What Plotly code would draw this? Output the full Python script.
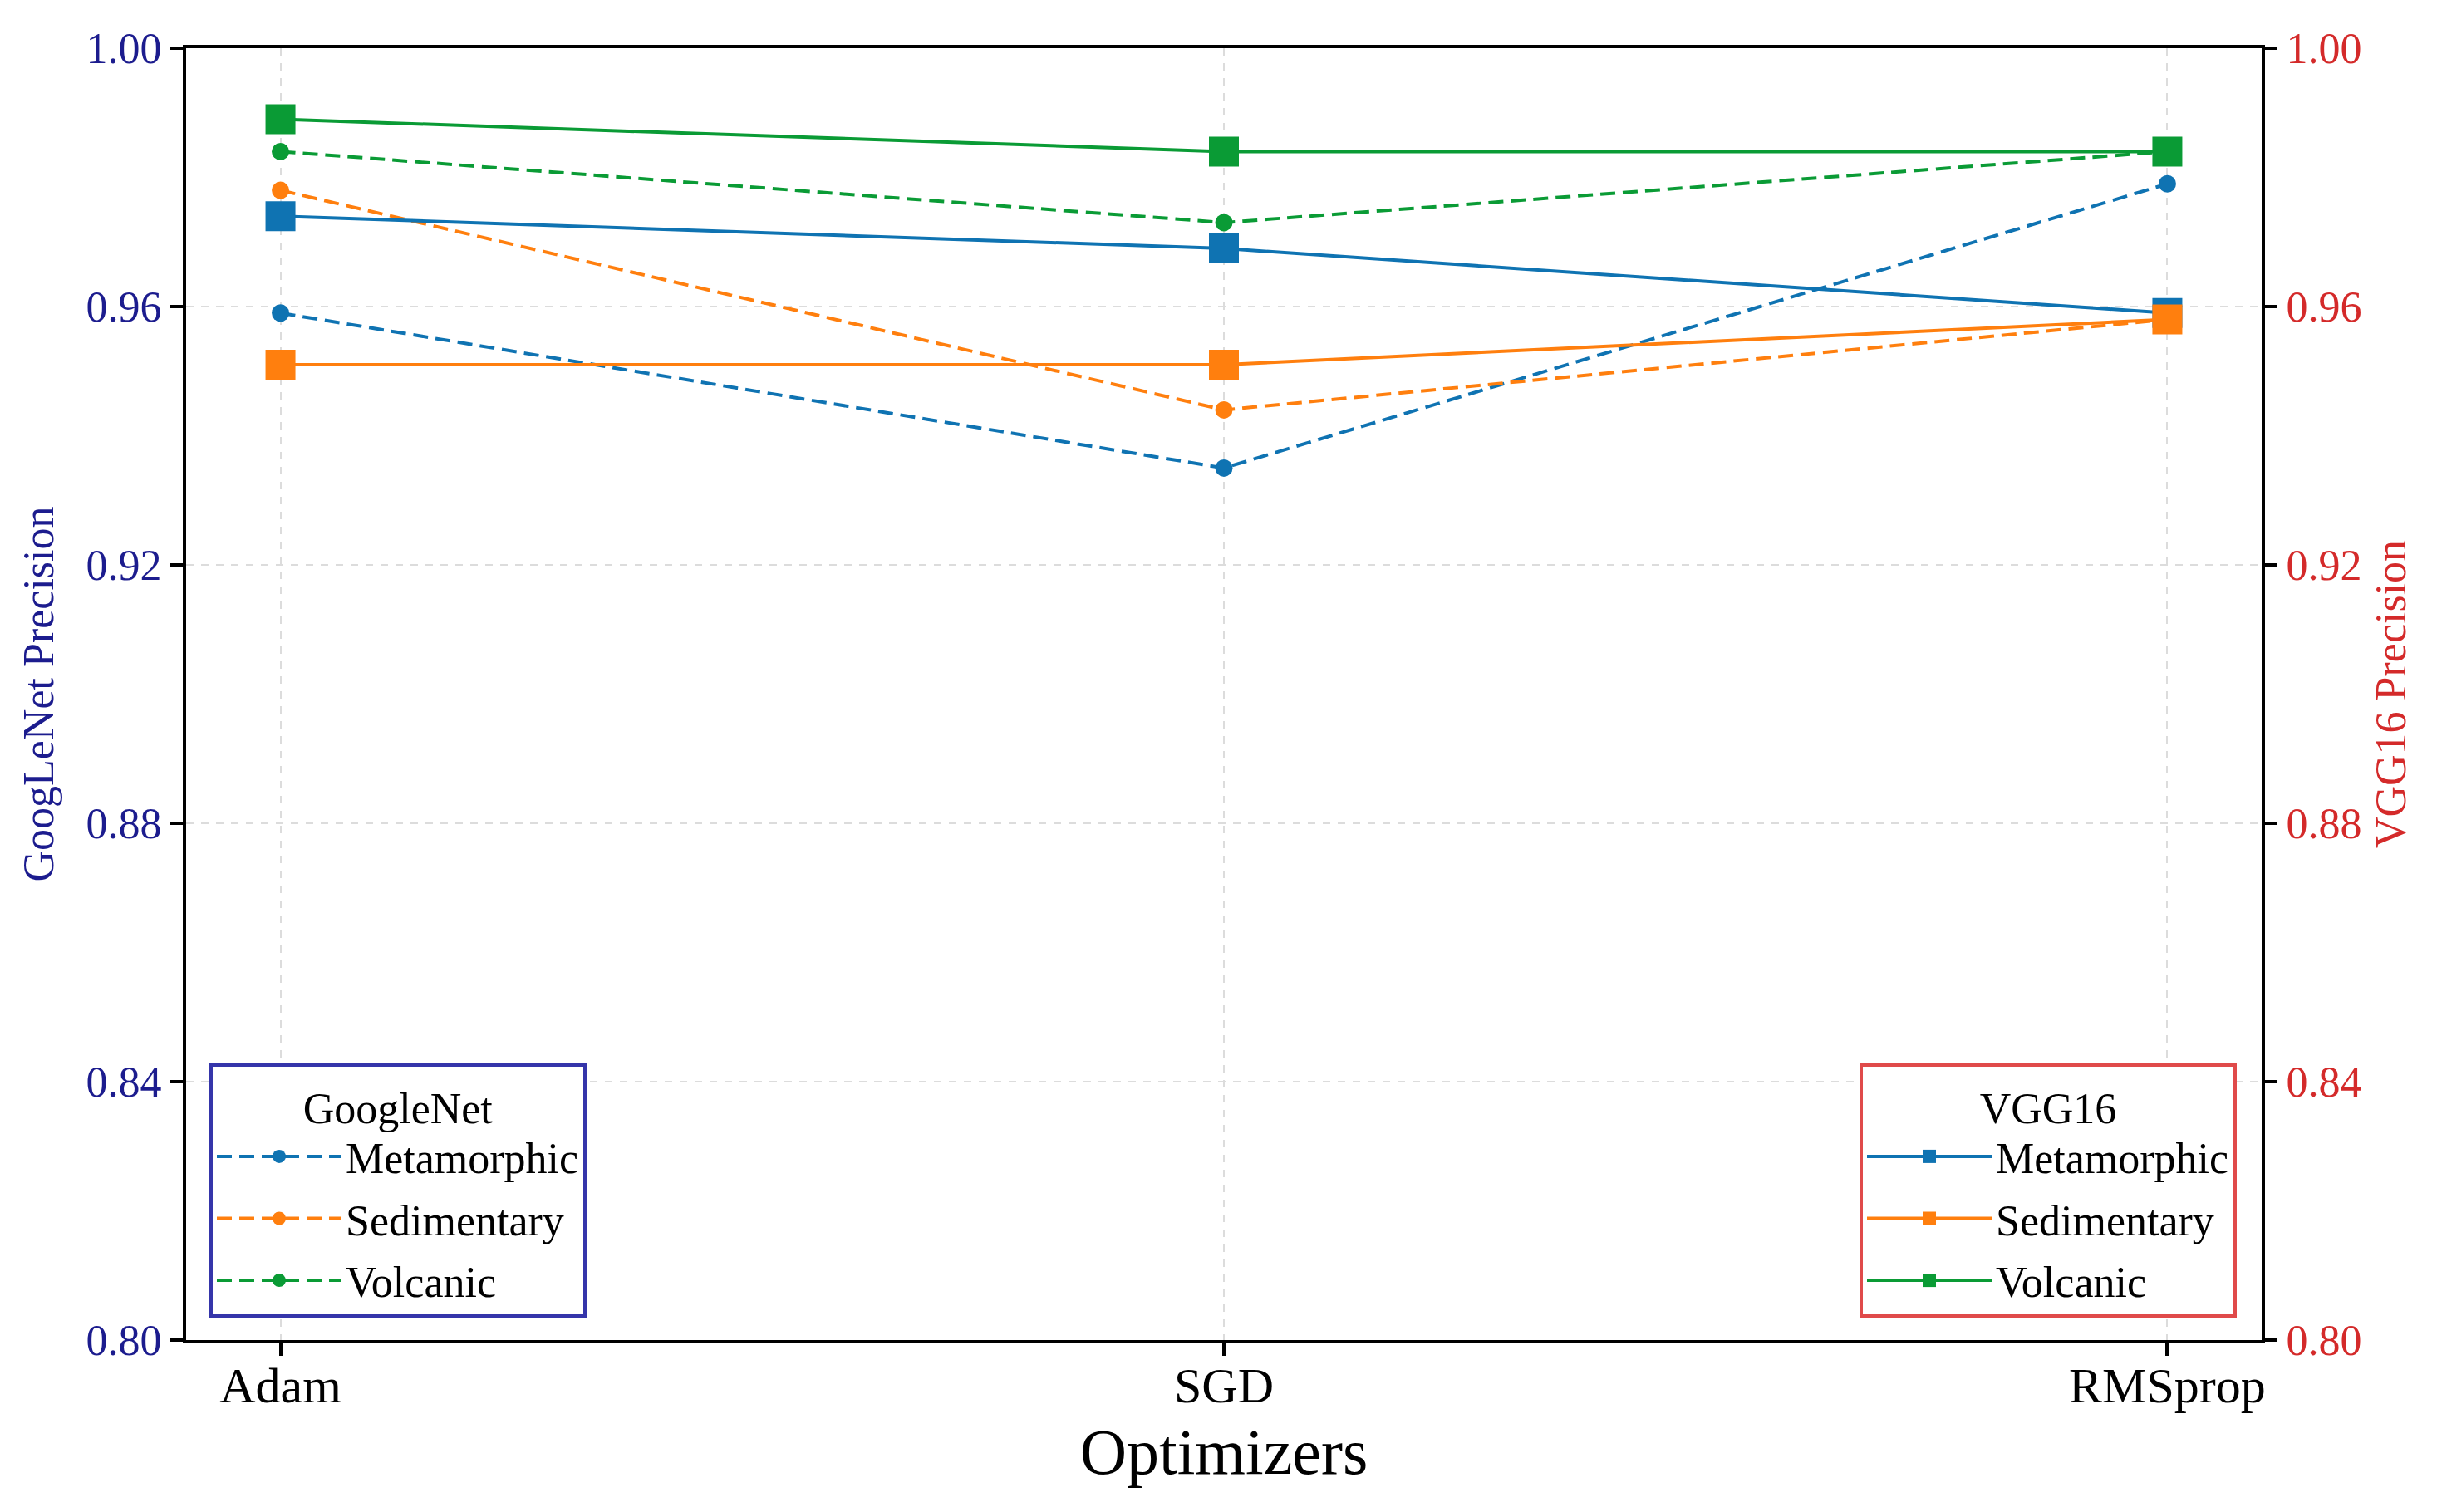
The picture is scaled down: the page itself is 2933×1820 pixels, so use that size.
import plotly.graph_objects as go

optimizers = ["Adam", "SGD", "RMSprop"]
classes = ["Metamorphic", "Sedimentary", "Volcanic"]

googlenet_metamorphic = [0.959, 0.935, 0.979]
googlenet_sedimentary = [0.978, 0.944, 0.958]
googlenet_volcanic = [0.984, 0.973, 0.984]

vgg16_metamorphic = [0.974, 0.969, 0.959]
vgg16_sedimentary = [0.951, 0.951, 0.958]
vgg16_volcanic = [0.989, 0.984, 0.984]

y_ticks = [0.80, 0.84, 0.88, 0.92, 0.96, 1.00]

colors = ["#0f73b2", "#ff7f0e", "#0a9b35"]
FONT = "Liberation Serif, Times New Roman, serif"
LEFT_C = "#1c1c8e"
RIGHT_C = "#d42a2a"

W, H = 2925, 1812
ML, MR, MT, MB = 216, 211, 50, 207

fig = go.Figure()

g_series = [googlenet_metamorphic, googlenet_sedimentary, googlenet_volcanic]
v_series = [vgg16_metamorphic, vgg16_sedimentary, vgg16_volcanic]

for name, vals, c in zip(classes, g_series, colors):
    fig.add_trace(go.Scatter(
        x=optimizers, y=vals, name=name, mode="lines+markers",
        line=dict(color=c, width=4, dash="18px,9px"),
        marker=dict(symbol="circle", size=21, color=c),
        legend="legend", legendgroup="g_" + name, yaxis="y",
    ))

for name, vals, c in zip(classes, v_series, colors):
    fig.add_trace(go.Scatter(
        x=optimizers, y=vals, name=name, mode="lines+markers",
        line=dict(color=c, width=4),
        marker=dict(symbol="square", size=36, color=c),
        legend="legend2", legendgroup="v_" + name, yaxis="y2",
    ))

pw = W - ML - MR
ph = H - MT - MB
box_bottom = 1578

fig.update_layout(
    width=W, height=H, autosize=False,
    margin=dict(l=ML, r=MR, t=MT, b=MB, pad=0),
    paper_bgcolor="white", plot_bgcolor="white",
    font=dict(family=FONT, size=52, color="black"),
    xaxis=dict(
        type="category", range=[-0.1, 2.1],
        showline=True, mirror=True, linecolor="black", linewidth=4,
        ticks="outside", ticklen=15, tickwidth=4, tickcolor="black",
        tickfont=dict(size=60, color="black", family=FONT),
        ticklabelstandoff=-16,
        showgrid=True, gridcolor="#dcdcdc", gridwidth=2, griddash="dash",
        title=dict(text="Optimizers", font=dict(size=78, family=FONT, color="black"), standoff=20),
        zeroline=False,
    ),
    yaxis=dict(
        range=[0.80, 1.00], tickvals=y_ticks, tickformat=".2f",
        showline=True, linecolor="black", linewidth=4,
        ticks="outside", ticklen=15, tickwidth=4, tickcolor="black",
        tickfont=dict(size=52, color=LEFT_C, family=FONT),
        showgrid=True, gridcolor="#dcdcdc", gridwidth=2, griddash="dash",
        title=dict(text="GoogLeNet Precision", font=dict(size=52, family=FONT, color=LEFT_C), standoff=23),
        zeroline=False,
    ),
    yaxis2=dict(
        range=[0.80, 1.00], tickvals=y_ticks, tickformat=".2f",
        overlaying="y", side="right",
        showline=True, linecolor="black", linewidth=4,
        ticks="outside", ticklen=15, tickwidth=4, tickcolor="black",
        tickfont=dict(size=52, color=RIGHT_C, family=FONT),
        showgrid=False,
        title=dict(text="VGG16 Precision", font=dict(size=52, family=FONT, color=RIGHT_C), standoff=18),
        zeroline=False,
    ),
    legend=dict(
        title=dict(text="GoogleNet", side="top center", font=dict(size=52, family=FONT)),
        font=dict(size=52, family=FONT),
        x=(244 - ML) / pw, y=(H - MB - box_bottom) / ph, xanchor="left", yanchor="bottom",
        bordercolor="#3535aa", borderwidth=4, bgcolor="white",
        itemwidth=150, tracegroupgap=4, traceorder="grouped",
    ),
    legend2=dict(
        title=dict(text="VGG16", side="top center", font=dict(size=52, family=FONT)),
        font=dict(size=52, family=FONT),
        x=(2684 - ML) / pw, y=(H - MB - box_bottom) / ph, xanchor="right", yanchor="bottom",
        bordercolor="#e04a4a", borderwidth=4, bgcolor="white",
        itemwidth=150, tracegroupgap=4, traceorder="grouped",
    ),
    showlegend=True,
)

fig.write_html("out.html")
